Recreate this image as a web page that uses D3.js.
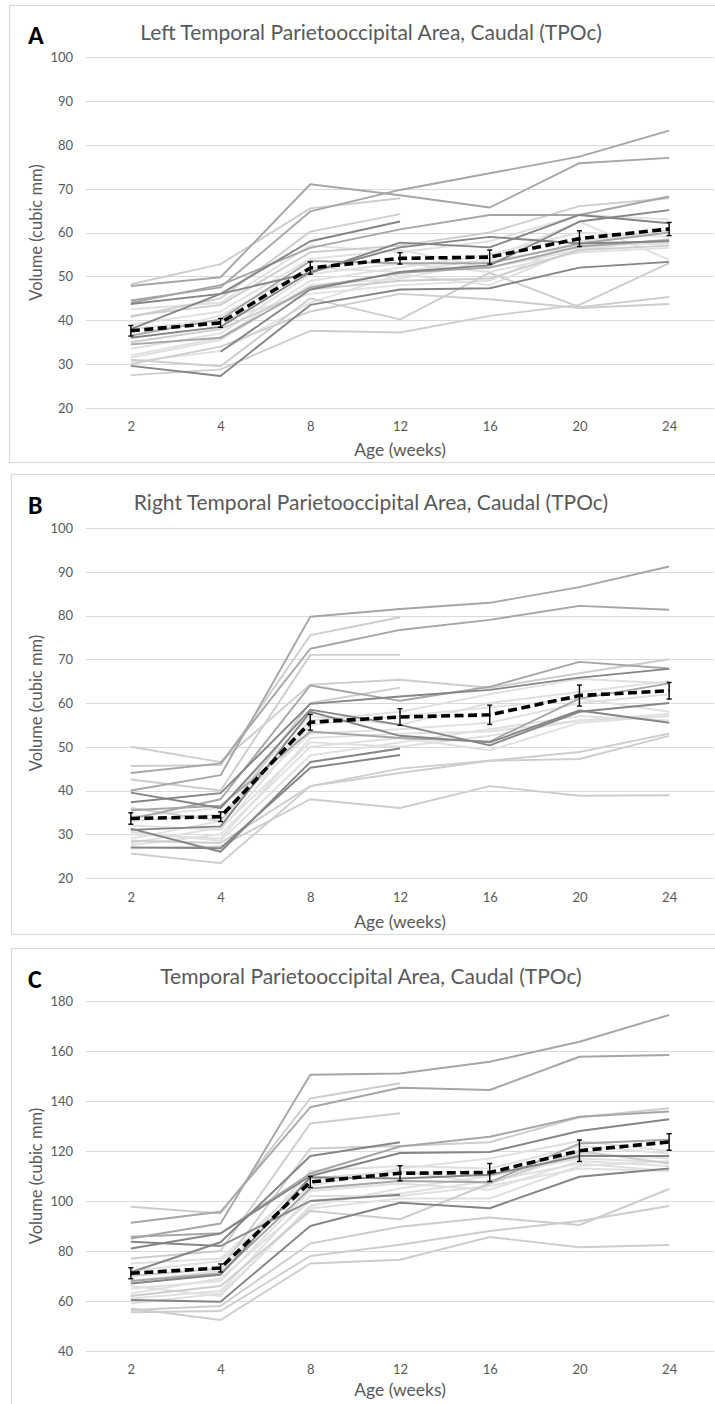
<!DOCTYPE html>
<html>
<head>
<meta charset="utf-8">
<script src="https://cdn.jsdelivr.net/npm/d3@7"></script>
<style>
  html, body { margin: 0; padding: 0; background: #fff; }
  svg { display: block; }
  text { font-family: Lato, Carlito, "Liberation Sans", sans-serif; }
</style>
</head>
<body>
<svg id="fig" width="715" height="1404"></svg>
<script>
// Scan ages (weeks)
const weeks = [2, 4, 8, 12, 16, 20, 24];

// ---- Left TPOc volumes (cubic mm), one row per animal ----
const leftDark = [
  [38.0, 46.0, 58.0, 62.5, null, null, null],
  [43.7, 46.0, 50.8, 57.7, 56.6, 64.0, 62.1],
  [null, 32.8, 47.0, 51.0, 52.5, 62.5, 65.1],
  [29.6, 27.3, 43.5, 47.0, 47.3, 52.0, 53.3],
  [36.0, 38.5, 51.0, 56.6, 59.0, 57.5, 58.0]
];
const leftMid = [
  [47.8, 49.8, 71.0, 68.5, 65.7, 75.8, 77.0],
  [44.5, 47.5, 64.8, 69.7, 73.5, 77.3, 83.2],
  [44.0, 48.0, 56.5, 60.7, 64.0, 64.0, 68.2],
  [36.5, 40.2, 53.5, 53.0, 53.0, 57.5, 60.0],
  [34.5, 36.0, 47.5, 50.8, 52.0, 56.8, 58.3]
];
const leftLight = [
  [48.2, 52.8, 65.5, 67.8, null, null, null],
  [40.8, 45.0, 60.2, 64.2, null, null, null],
  [41.0, 43.5, 55.5, 57.0, 60.0, 66.0, 67.8],
  [31.0, 29.5, 45.0, 40.2, 50.8, 43.0, 45.3],
  [27.5, 28.8, 37.6, 37.2, 41.0, 43.5, 53.0],
  [30.0, 34.0, 42.0, 46.0, 44.8, 42.8, 43.7],
  [35.0, 38.0, 47.0, 49.0, 49.5, 56.0, 57.0]
];
const leftPale = [
  [39.0, 42.0, 54.0, 56.0, 52.0, 56.0, 58.5],
  [32.0, 36.0, 49.0, 52.0, 55.0, 60.0, 59.0],
  [30.5, 33.0, 44.0, 50.5, 48.0, 56.5, 58.5],
  [33.5, 37.0, 50.5, 53.0, 51.0, 55.5, 56.5],
  [36.5, 41.0, 52.0, 51.0, 54.0, 62.5, 53.8],
  [38.0, 40.0, 46.0, 48.0, 49.0, 58.0, 60.5],
  [31.5, 35.5, 48.0, 49.5, 53.5, 57.0, 57.5],
  [42.5, 44.0, 57.0, 55.5, 58.0, 64.0, 63.0]
];
const leftMean = [37.6, 39.4, 51.9, 54.1, 54.4, 58.6, 60.8];
const leftErr  = [1.2, 1.0, 1.4, 1.3, 1.6, 1.8, 1.5];

// ---- Right TPOc volumes ----
const rightDark = [
  [37.3, 39.4, 59.8, 61.5, 63.0, 65.8, 67.8],
  [31.0, 31.8, 58.0, 52.5, 51.0, 58.3, 55.5],
  [31.3, 26.0, 46.5, 49.6, null, null, null],
  [27.0, 26.8, 45.2, 48.1, null, null, null],
  [39.5, 36.0, 58.5, 55.0, 50.3, 58.0, 60.0]
];
const rightMid = [
  [40.0, 43.5, 79.7, 81.5, 82.9, 86.5, 91.2],
  [44.0, 46.2, 72.4, 76.7, 79.0, 82.2, 81.3],
  [33.5, 38.0, 64.0, 60.5, 63.7, 69.4, 67.9],
  [35.5, 36.5, 53.5, 52.0, 51.2, 61.0, 64.5]
];
const rightLight = [
  [45.6, 45.8, 75.5, 79.6, null, null, null],
  [42.5, 40.0, 71.0, 71.0, null, null, null],
  [50.0, 46.5, 64.2, 65.3, 63.5, 66.8, 70.0],
  [36.0, 33.0, 60.0, 63.5, null, null, null],
  [28.5, 28.0, 41.0, 45.0, 46.8, 47.2, 52.5],
  [25.6, 23.4, 41.0, 44.0, 46.8, 48.8, 53.0],
  [26.8, 27.2, 38.0, 36.0, 41.0, 38.8, 38.9]
];
const rightPale = [
  [30.0, 29.0, 52.0, 53.0, 53.5, 56.0, 57.0],
  [32.0, 31.0, 55.0, 57.0, 59.0, 61.0, 58.0],
  [27.5, 30.0, 50.0, 52.0, 49.2, 55.5, 57.0],
  [29.0, 33.0, 56.0, 58.0, 62.0, 65.5, 64.5],
  [33.0, 34.5, 53.0, 54.0, 55.5, 60.0, 62.0],
  [30.5, 28.5, 48.0, 51.0, 54.0, 57.0, 56.0],
  [34.0, 36.0, 57.0, 55.0, 60.0, 62.5, 65.0],
  [28.0, 31.5, 51.0, 50.0, 52.5, 56.0, 57.5]
];
const rightMean = [33.6, 34.0, 55.6, 56.8, 57.3, 61.7, 62.8];
const rightErr  = [1.3, 1.1, 1.8, 1.9, 2.2, 2.4, 1.9];

// ---- Combined TPOc volumes ----
const totalDark = [
  [71.5, 83.5, 118.0, 123.5, null, null, null],
  [81.0, 87.0, 110.0, 119.2, 119.6, 128.0, 132.7],
  [60.4, 59.7, 90.0, 99.3, 97.1, 109.7, 113.0],
  [83.7, 82.0, 100.0, 102.5, null, null, null],
  [67.0, 70.5, 109.5, 109.0, 110.5, 118.0, 118.0]
];
const totalMid = [
  [85.0, 91.0, 150.5, 151.0, 155.7, 163.7, 174.4],
  [91.3, 95.7, 137.5, 145.3, 144.4, 157.7, 158.4],
  [85.7, 87.1, 111.0, 121.8, 125.7, 133.7, 135.8],
  [68.0, 71.0, 105.0, 108.0, 107.5, 123.0, 124.5]
];
const totalLight = [
  [97.7, 95.0, 141.0, 147.1, null, null, null],
  [77.0, 80.0, 131.0, 135.1, null, null, null],
  [57.0, 52.4, 75.0, 76.5, 85.6, 81.5, 82.4],
  [55.5, 56.0, 78.0, 82.5, 88.0, 92.0, 98.0],
  [56.4, 58.0, 83.0, 89.7, 93.4, 90.4, 104.8],
  [62.0, 66.0, 96.0, 92.7, 107.0, 120.0, 115.0],
  [70.0, 73.0, 121.0, 122.0, 123.5, 133.5, 137.1]
];
const totalPale = [
  [65.0, 68.0, 104.0, 107.0, 104.5, 116.0, 114.0],
  [63.0, 69.0, 100.0, 103.0, 108.0, 115.0, 112.0],
  [72.0, 76.0, 106.0, 113.0, 117.0, 124.0, 120.0],
  [59.0, 63.0, 97.0, 101.0, 101.0, 114.0, 116.0],
  [68.0, 72.0, 112.0, 114.0, 113.0, 122.0, 119.0],
  [61.0, 64.0, 102.0, 102.0, 106.0, 113.0, 112.0],
  [75.0, 77.0, 109.0, 112.0, 107.0, 119.0, 117.0],
  [66.0, 62.0, 98.0, 105.0, 110.0, 117.0, 115.5]
];
const totalMean = [71.1, 73.2, 107.6, 111.1, 111.4, 120.1, 123.6];
const totalErr  = [2.2, 1.6, 2.2, 3.0, 3.6, 4.3, 3.3];

// Panel titles and y-axis ticks
const panelLetters = ["A", "B", "C"];
const panelTitles = [
  "Left Temporal Parietooccipital Area, Caudal (TPOc)",
  "Right Temporal Parietooccipital Area, Caudal (TPOc)",
  "Temporal Parietooccipital Area, Caudal (TPOc)"
];
const ticksLR = [20, 30, 40, 50, 60, 70, 80, 90, 100];
const ticksTotal = [40, 60, 80, 100, 120, 140, 160, 180];

const svg = d3.select("#fig");
const textGray = "#595959";

function drawPanel(p) {
  const g = svg.append("g");

  // chart frame
  g.append("rect")
    .attr("x", p.frame[0] + 0.5).attr("y", p.frame[1] + 0.5)
    .attr("width", 760).attr("height", p.frame[2])
    .attr("fill", "#fff").attr("stroke", "#d9d9d9").attr("stroke-width", 1.2);

  const x = d3.scalePoint().domain(weeks).range([86, 714]).padding(0.5);
  const y = d3.scaleLinear().domain(p.domain).range(p.yRange);

  // horizontal gridlines
  g.append("g").selectAll("line").data(p.ticks).join("line")
    .attr("x1", 86).attr("x2", 714)
    .attr("y1", d => Math.round(y(d)) + 0.5).attr("y2", d => Math.round(y(d)) + 0.5)
    .attr("stroke", "#d9d9d9").attr("stroke-width", 1.2);

  // y tick labels
  const yAxis = d3.axisLeft(y).tickValues(p.ticks).tickSize(0).tickPadding(0);
  const ya = g.append("g").attr("transform", "translate(73,0)").call(yAxis);
  ya.select(".domain").remove();
  ya.selectAll("text").attr("fill", textGray).style("font-size", "13px")
    .style("font-family", "Lato, Carlito, sans-serif").attr("dy", "0.34em");

  // x tick labels
  const xAxis = d3.axisBottom(x).tickSize(0).tickPadding(0);
  const xa = g.append("g").attr("transform", `translate(0,${p.xLabelY})`).call(xAxis);
  xa.select(".domain").remove();
  xa.selectAll("text").attr("fill", textGray).style("font-size", "13px")
    .style("font-family", "Lato, Carlito, sans-serif").attr("dy", "0");

  const line = d3.line()
    .defined(d => d != null)
    .x((d, i) => x(weeks[i]))
    .y(d => y(d));

  const groups = [
    { rows: p.pale,  color: "#e0e0e0" },
    { rows: p.light, color: "#cdcdcd" },
    { rows: p.mid,   color: "#a6a6a6" },
    { rows: p.dark,  color: "#858585" }
  ];
  groups.forEach(grp => {
    g.append("g").selectAll("path").data(grp.rows).join("path")
      .attr("d", line)
      .attr("fill", "none")
      .attr("stroke", grp.color)
      .attr("stroke-width", 1.9)
      .attr("stroke-linejoin", "round");
  });

  // standard error bars
  const eb = g.append("g").attr("stroke", "#000").attr("stroke-width", 1.4);
  p.mean.forEach((m, i) => {
    const cx = x(weeks[i]);
    const top = y(m + p.err[i]), bot = y(m - p.err[i]);
    eb.append("line").attr("x1", cx).attr("x2", cx).attr("y1", top).attr("y2", bot);
    eb.append("line").attr("x1", cx - 2.5).attr("x2", cx + 2.5).attr("y1", top).attr("y2", top);
    eb.append("line").attr("x1", cx - 2.5).attr("x2", cx + 2.5).attr("y1", bot).attr("y2", bot);
  });

  // group mean
  g.append("path")
    .datum(p.mean)
    .attr("d", line)
    .attr("fill", "none")
    .attr("stroke", "#000")
    .attr("stroke-width", 3.6)
    .attr("stroke-dasharray", "9,4.5");

  // panel letter
  g.append("text").attr("x", 28).attr("y", p.titleY + 4)
    .attr("fill", "#000").style("font-weight", "bold").style("font-size", "26px")
    .style("font-family", "Carlito, Lato, sans-serif")
    .text(p.letter);

  // title
  g.append("text").attr("x", 371).attr("y", p.titleY)
    .attr("text-anchor", "middle").attr("fill", textGray)
    .style("font-size", "21px")
    .text(p.title);

  // axis titles
  g.append("text").attr("x", 400).attr("y", p.xTitleY)
    .attr("text-anchor", "middle").attr("fill", textGray)
    .style("font-size", "17.5px")
    .text("Age (weeks)");

  const midY = (p.yRange[0] + p.yRange[1]) / 2;
  g.append("text")
    .attr("transform", `translate(42,${midY}) rotate(-90)`)
    .attr("text-anchor", "middle").attr("fill", textGray)
    .style("font-size", "16.5px")
    .text("Volume (cubic mm)");
}

drawPanel({
  letter: panelLetters[0], title: panelTitles[0],
  frame: [9, 5, 457], domain: [20, 100], yRange: [408, 57], ticks: ticksLR,
  titleY: 40, xLabelY: 431, xTitleY: 456,
  dark: leftDark, mid: leftMid, light: leftLight, pale: leftPale,
  mean: leftMean, err: leftErr
});

drawPanel({
  letter: panelLetters[1], title: panelTitles[1],
  frame: [11, 474, 460], domain: [20, 100], yRange: [878, 528], ticks: ticksLR,
  titleY: 510, xLabelY: 902, xTitleY: 928,
  dark: rightDark, mid: rightMid, light: rightLight, pale: rightPale,
  mean: rightMean, err: rightErr
});

drawPanel({
  letter: panelLetters[2], title: panelTitles[2],
  frame: [11, 948, 500], domain: [40, 180], yRange: [1351, 1001], ticks: ticksTotal,
  titleY: 984, xLabelY: 1374, xTitleY: 1396,
  dark: totalDark, mid: totalMid, light: totalLight, pale: totalPale,
  mean: totalMean, err: totalErr
});
</script>
</body>
</html>
